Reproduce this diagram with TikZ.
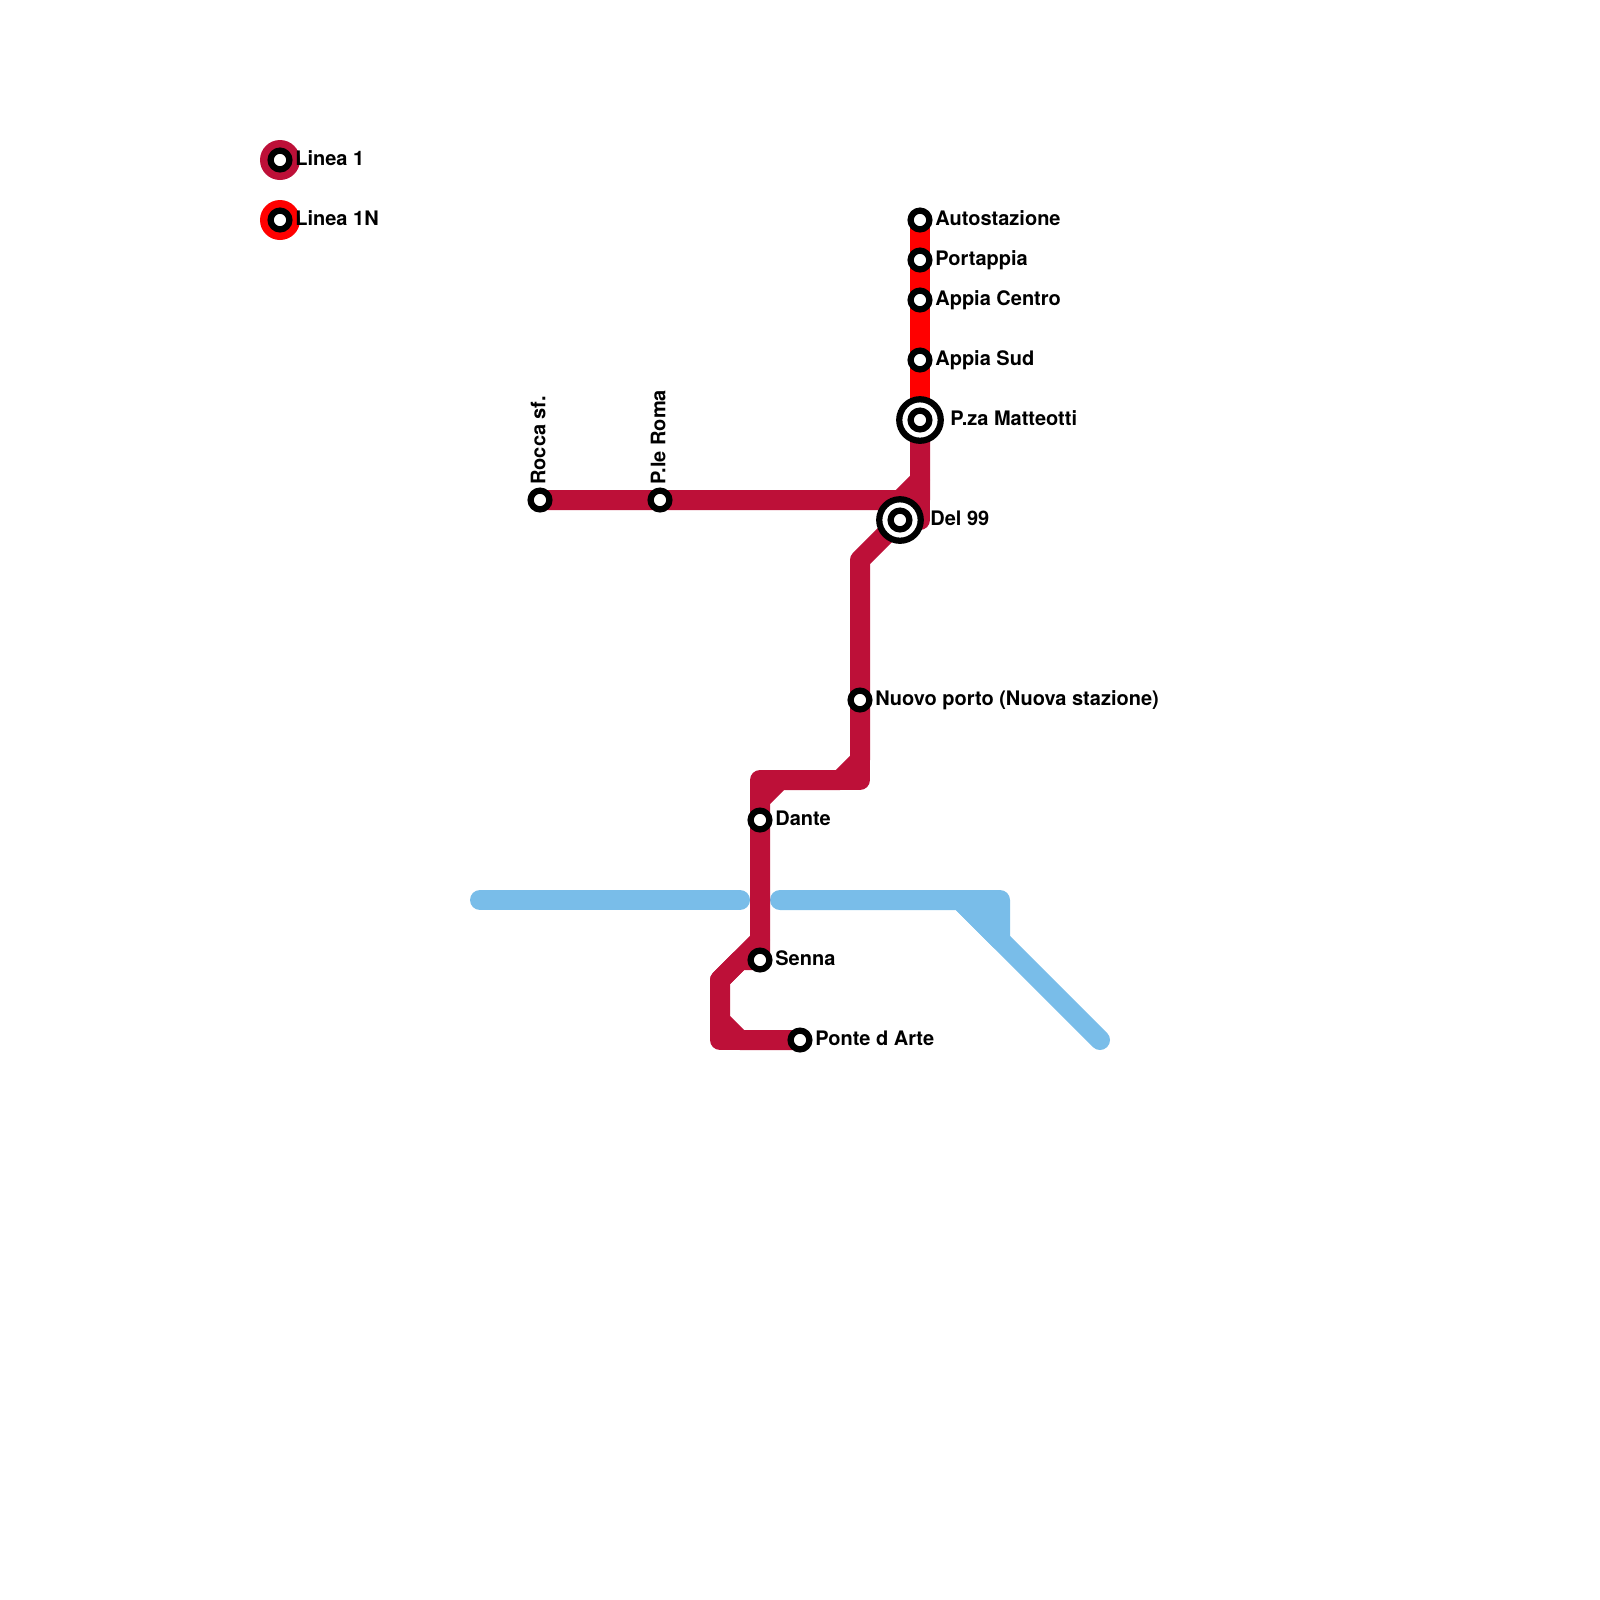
\documentclass[tikz,border=0pt]{standalone}
\usepackage{fontspec}
\setmainfont{TeX Gyre Heros}
\usetikzlibrary{backgrounds}
\definecolor{lineauno}{HTML}{BD1038}
\definecolor{lineaunon}{HTML}{FF0000}
\definecolor{fiume}{HTML}{79BDE9}
\tikzset{
	fermata/.style={circle,draw=black,fill=white,line width=1.25mm,minimum size=3.75mm,inner sep=0pt},
	nodo/.style={circle,draw=black,fill=white,line width=1.25mm,minimum size=8.3mm,inner sep=0pt},
	nome/.style={anchor=base west,inner sep=0pt,font=\bfseries\fontsize{11.38}{13}\selectfont},
	tratta/.style={line width=4mm,line cap=round,line join=round},
	legenda/.style={circle,minimum size=8mm,inner sep=0pt}
}
\begin{document}
\begin{tikzpicture}[x=4mm,y=-4mm]
	\useasboundingbox (0,0) rectangle (80,80);
	\foreach \n/\p in {a/{45,25},b/{46,24},c/{46,25},d/{46,26},e/{43,28},f/{43,38},g/{42,39},h/{43,39},i/{39,39},j/{38,39},k/{38,40},l/{38,47},m/{37,48},o/{36,49},q/{36,51},r/{37,52},s/{36,52},t/{24,45},u/{37,45},v/{39,45},w/{50,45},x/{50,47},y/{48,45},z/{55,52}}
		\coordinate (\n) at (\p);
	\node[legenda,fill=lineauno] (l1) at (14,8) {};
	\node[legenda,fill=lineaunon] (l2) at (14,11) {};
	\foreach \n/\p/\d/\t in {l1/{14,8}/3/Linea 1,l2/{14,11}/3/Linea 1N,auto/{46,11}/3/Autostazione,port/{46,13}/3/Portappia,centro/{46,15}/3/Appia Centro,sud/{46,18}/3/Appia Sud,nuovo/{43,35}/3/Nuovo porto (Nuova stazione),dante/{38,41}/3/Dante,senna/{38,48}/3/Senna,ponte/{40,52}/3/Ponte d Arte,matt/{46,21}/6/P.za Matteotti,del/{45,26}/6/Del 99}
		\node[nome,xshift=\d mm,yshift=-1.05mm] (\n-t) at (\p) {\t};
	\foreach \n/\p in {matt/{46,21},del/{45,26}}
		\node[nodo] (\n) at (\p) {};
	\foreach \n/\p in {f1/{14,8},f2/{14,11},auto/{46,11},port/{46,13},centro/{46,15},sud/{46,18},matt-i/{46,21},del-i/{45,26},nuovo/{43,35},dante/{38,41},senna/{38,48},ponte/{40,52},rocca/{27,25},roma/{33,25}}
		\node[fermata] (\n) at (\p) {};
	\foreach \n/\t in {rocca/Rocca sf.,roma/P.le Roma}
		\node[nome,rotate=90,xshift=3mm,yshift=-1.05mm] (\n-t) at (\n) {\t};
	\begin{scope}[on background layer]
		\draw[tratta,fiume] (t)--(u);
		\draw[tratta,fiume,fill=fiume] (v)--(w)--(x)--(y)--cycle;
		\draw[tratta,fiume] (y)--(z);
		\draw[tratta,lineaunon] (auto.center)--(port.center)--(centro.center)--(sud.center)--(matt.center);
		\draw[tratta,lineauno] (rocca.center)--(roma.center)--(a)--(b)--(matt.center);
		\draw[tratta,lineauno] (b)--(c)--(del.center)--(e)--(nuovo.center)--(f)--(g)--(i)--(k)--(dante.center)--(senna.center);
		\draw[tratta,lineauno] (c)--(d)--(del.center);
		\draw[tratta,lineauno] (f)--(h)--(j)--(k);
		\draw[tratta,lineauno] (l)--(o)--(q)--(r)--(ponte.center);
		\draw[tratta,lineauno] (senna.center)--(m)--(o);
		\draw[tratta,lineauno] (q)--(s)--(ponte.center);
	\end{scope}
\end{tikzpicture}
\end{document}
